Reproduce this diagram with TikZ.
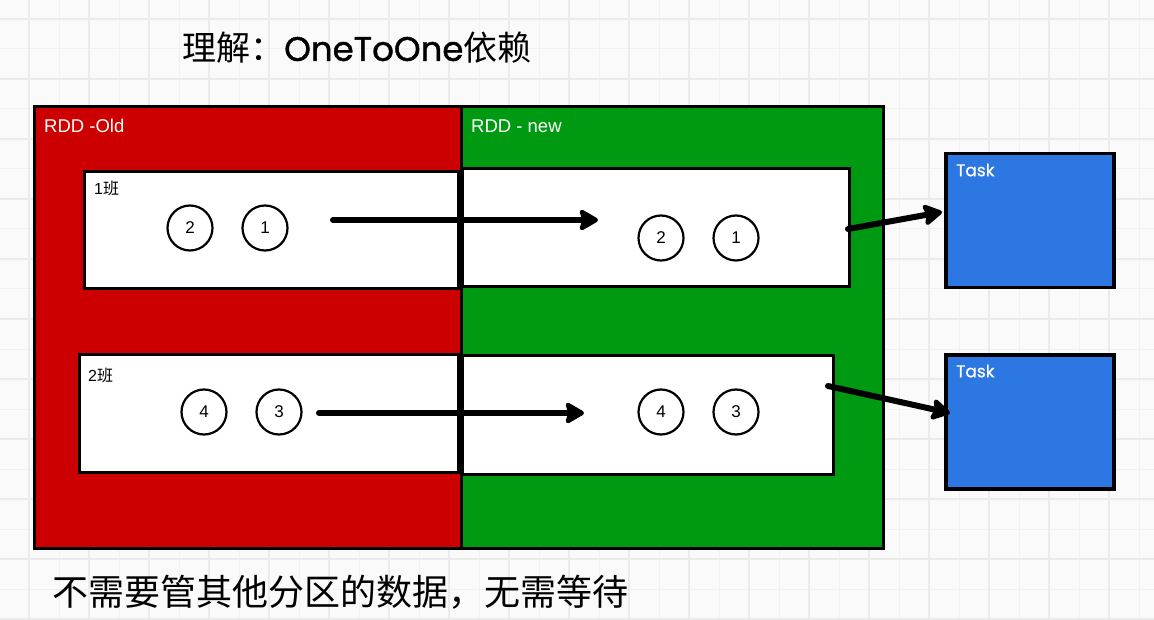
\documentclass[tikz,border=0pt]{standalone}
\usepackage{fontspec}
\setmainfont{Liberation Sans}
\newfontfamily\cjk{Noto Sans CJK SC}
\newfontfamily\pop{Poppins}[FakeBold=1.2]
\newfontfamily\poplight{Poppins}[FakeBold=0.6]
\usetikzlibrary{arrows.meta}
\definecolor{bg}{HTML}{FAFAFA}
\definecolor{gridc}{HTML}{F1F1F1}
\definecolor{gridd}{HTML}{EBEBEB}
\definecolor{rddred}{HTML}{CC0000}
\definecolor{rddgreen}{HTML}{009A12}
\definecolor{taskblue}{HTML}{2C77E2}
\tikzset{
  rdd/.style={draw=black, line width=3pt, anchor=north west, inner sep=0pt},
  part/.style={draw=black, line width=3pt, fill=white, anchor=north west, inner sep=0pt},
  task/.style={draw=black, line width=3.5pt, fill=taskblue, anchor=north west, inner sep=0pt, minimum width=168pt, minimum height=134pt},
  ball/.style={circle, draw=black, line width=2.2pt, fill=white, minimum size=45pt, inner sep=0pt, font=\fontsize{17}{17}\selectfont},
  rddlabel/.style={anchor=west, text=white, font=\fontsize{18.5}{18.5}\selectfont, inner sep=0pt},
  partlabel/.style={anchor=west, text=black, font=\fontsize{16}{16}\selectfont, inner sep=0pt},
  tasklabel/.style={anchor=west, text=white, font=\poplight\fontsize{17}{17}\selectfont, inner sep=0pt},
  conn/.style={line width=6pt, line cap=round, line join=round, arrows={-Stealth[length=22pt 0 0, width=25pt 0, inset=4pt 0, round]}},
}
\begin{document}
\begin{tikzpicture}[x=1pt, y=-1pt]
  % background and grid
  \fill[bg] (0,0) rectangle (1154,620);
  \useasboundingbox (0,0) rectangle (1154,620);
  \foreach \x in {29,59,...,1154} \draw[gridc, line width=1pt] (\x,0) -- (\x,620);
  \foreach \y in {19,49,...,620} \draw[gridc, line width=1pt] (0,\y) -- (1154,\y);
  \foreach \x in {29,89,...,1154} \draw[gridd, line width=1.2pt] (\x,0) -- (\x,620);
  \foreach \y in {19,79,...,620} \draw[gridd, line width=1.2pt] (0,\y) -- (1154,\y);

  % title
  \node[anchor=west, inner sep=0pt, font=\fontsize{34}{34}\selectfont] (title) at (182,48)
    {{\cjk 理解：}{\pop OneToOne}{\cjk 依赖}};

  % RDD boxes
  \node[rdd, fill=rddred, minimum width=427pt, minimum height=442pt] (old) at (33,105) {};
  \node[rdd, fill=rddgreen, minimum width=422pt, minimum height=442pt] (new) at (460,105) {};
  \node[rddlabel] (oldlbl) at (44,126) {RDD -Old};
  \node[rddlabel] (newlbl) at (471,126) {RDD - new};

  % partitions
  \node[part, minimum width=374pt, minimum height=117pt] (p1o) at (83,170) {};
  \node[part, minimum width=387pt, minimum height=118pt] (p1n) at (461,167) {};
  \node[part, minimum width=379pt, minimum height=118pt] (p2o) at (78,353) {};
  \node[part, minimum width=371pt, minimum height=119pt] (p2n) at (461,354) {};
  \node[partlabel] (l1) at (94,188) {1{\cjk 班}};
  \node[partlabel] (l2) at (88,375) {2{\cjk 班}};

  % records
  \node[ball] (o2) at (190,228) {2};
  \node[ball] (o1) at (265,228) {1};
  \node[ball] (n2) at (661,238) {2};
  \node[ball] (n1) at (736,238) {1};
  \node[ball] (o4) at (204,412) {4};
  \node[ball] (o3) at (279,412) {3};
  \node[ball] (n4) at (661,412) {4};
  \node[ball] (n3) at (736,412) {3};

  % tasks
  \node[task] (t1) at (944,152) {};
  \node[task] (t2) at (944,353) {};
  \node[tasklabel] (t1l) at (956,170) {Task};
  \node[tasklabel] (t2l) at (956,371) {Task};

  % connectors
  \coordinate (a1s) at (333,220);
  \coordinate (a1e) at (598,220);
  \coordinate (a2s) at (319,413);
  \coordinate (a2e) at (584,413);
  \coordinate (b1s) at (848,229);
  \coordinate (b1e) at (942,212);
  \coordinate (b2s) at (828,386);
  \coordinate (b2e) at (950,413);
  \draw[conn] (a1s) -- (a1e);
  \draw[conn] (a2s) -- (a2e);
  \draw[conn] (b1s) -- (b1e);
  \draw[conn] (b2s) -- (b2e);

  % footer
  \node[anchor=west, inner sep=0pt, font=\cjk\fontsize{36}{36}\selectfont] (foot) at (52,592)
    {不需要管其他分区的数据，无需等待};
\end{tikzpicture}
\end{document}
